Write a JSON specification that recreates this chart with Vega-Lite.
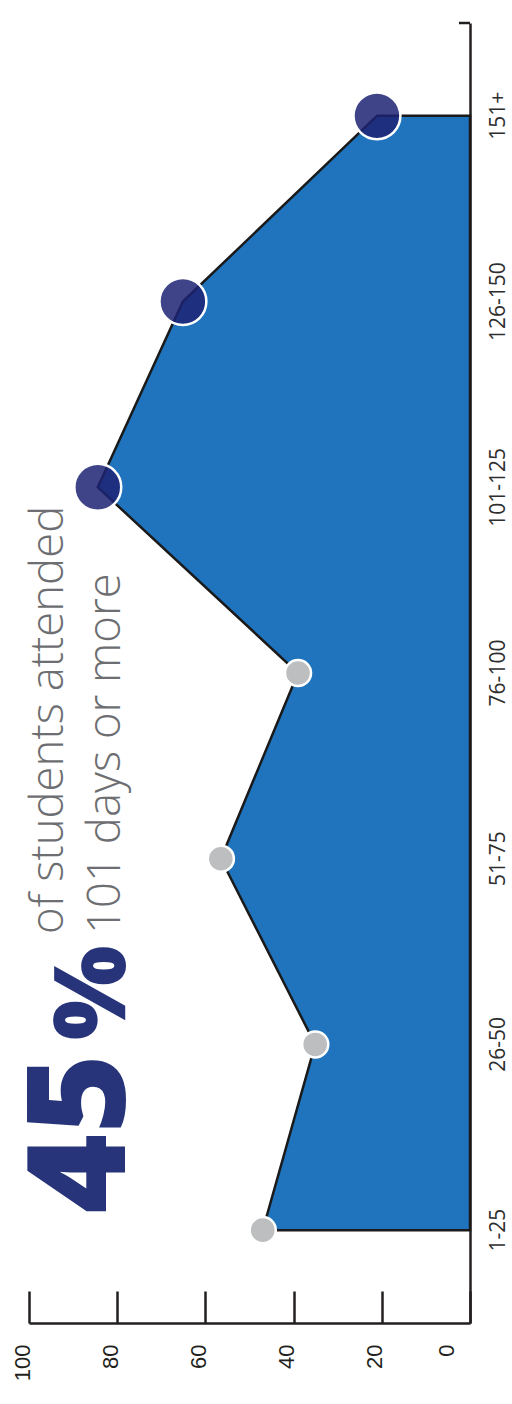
{
  "$schema": "https://vega.github.io/schema/vega-lite/v6.json",
  "width": 441,
  "height": 1300,
  "autosize": {"type": "none"},
  "padding": {"left": 29, "top": 23, "right": 42, "bottom": 81},
  "background": "white",
  "config": {"view": {"stroke": null}},
  "datasets": {
    "attendance": [
      {"days": "1-25", "students": 47, "attended101": "no"},
      {"days": "26-50", "students": 35.1, "attended101": "no"},
      {"days": "51-75", "students": 56.5, "attended101": "no"},
      {"days": "76-100", "students": 39, "attended101": "no"},
      {"days": "101-125", "students": 84.4, "attended101": "yes"},
      {"days": "126-150", "students": 65.1, "attended101": "yes"},
      {"days": "151+", "students": 21.1, "attended101": "yes"}
    ],
    "corner": [{"days": "151+", "from": 0, "to": 2.5}]
  },
  "layer": [
    {
      "data": {"name": "attendance"},
      "mark": {"type": "area", "orient": "horizontal", "color": "#1F74BD", "stroke": "#1a1a1a", "strokeWidth": 2.5},
      "encoding": {
        "y": {
          "field": "days",
          "type": "ordinal",
          "bandPosition": 0.5,
          "scale": {
            "type": "band",
            "domain": ["151+", "126-150", "101-125", "76-100", "51-75", "26-50", "1-25"],
            "paddingInner": 0,
            "paddingOuter": 0
          },
          "axis": {
            "orient": "right",
            "title": null,
            "ticks": false,
            "domainColor": "#231f20",
            "domainWidth": 2.5,
            "labelAngle": 270,
            "labelAlign": "center",
            "labelBaseline": "top",
            "labelPadding": 17,
            "labelFont": "Open Sans",
            "labelFontSize": 21,
            "labelColor": "#2e2e2e"
          }
        },
        "x": {
          "field": "students",
          "type": "quantitative",
          "stack": null,
          "scale": {"domain": [0, 100], "reverse": true, "nice": false},
          "axis": {
            "orient": "bottom",
            "title": null,
            "grid": false,
            "values": [0, 20, 40, 60, 80, 100],
            "domainColor": "#231f20",
            "domainWidth": 2.5,
            "tickColor": "#231f20",
            "tickWidth": 2.5,
            "tickSize": -32,
            "labelAngle": 270,
            "labelAlign": "right",
            "labelBaseline": "alphabetic",
            "labelPadding": 53,
            "labelFlush": false,
            "labelOverlap": false,
            "labelOffset": {"condition": {"test": "datum.value == 0", "value": -17}, "value": 0},
            "labelFont": "Liberation Sans",
            "labelFontSize": 22,
            "labelColor": "#231f20"
          }
        }
      }
    },
    {
      "data": {"name": "corner"},
      "mark": {"type": "rule", "color": "#231f20", "strokeWidth": 2.5},
      "encoding": {
        "y": {"field": "days", "type": "ordinal", "bandPosition": 0},
        "x": {"field": "from", "type": "quantitative"},
        "x2": {"field": "to"}
      }
    },
    {
      "data": {"name": "attendance"},
      "mark": {"type": "circle", "opacity": 1, "stroke": "white", "strokeWidth": 2.5, "strokeOpacity": 1},
      "encoding": {
        "y": {"field": "days", "type": "ordinal", "bandPosition": 0.5},
        "x": {"field": "students", "type": "quantitative"},
        "color": {"condition": {"test": "datum.attended101 == 'yes'", "value": "#1D2373"}, "value": "#BDBEC0"},
        "size": {"condition": {"test": "datum.attended101 == 'yes'", "value": 2200}, "value": 680},
        "fillOpacity": {"condition": {"test": "datum.attended101 == 'yes'", "value": 0.85}, "value": 1}
      }
    },
    {
      "data": {"values": [{"text": "45", "days": "1-25", "at": 78.2}]},
      "mark": {"type": "text", "angle": 270, "align": "left", "baseline": "alphabetic", "font": "Open Sans", "fontWeight": 800, "fontSize": 136, "color": "#27347A"},
      "encoding": {
        "y": {"field": "days", "type": "ordinal", "bandPosition": 0.41},
        "x": {"field": "at", "type": "quantitative"},
        "text": {"field": "text"}
      }
    },
    {
      "data": {"values": [{"text": "%", "days": "26-50", "at": 78.2}]},
      "mark": {"type": "text", "angle": 270, "align": "left", "baseline": "alphabetic", "font": "Open Sans", "fontWeight": 800, "fontSize": 100, "color": "#27347A"},
      "encoding": {
        "y": {"field": "days", "type": "ordinal", "bandPosition": 0.477},
        "x": {"field": "at", "type": "quantitative"},
        "text": {"field": "text"}
      }
    },
    {
      "data": {"values": [
        {"text": "of students attended", "days": "51-75", "at": 92.3},
        {"text": "101 days or more", "days": "51-75", "at": 79.4}
      ]},
      "mark": {"type": "text", "angle": 270, "align": "left", "baseline": "alphabetic", "font": "Open Sans", "fontWeight": 300, "fontSize": 45.5, "color": "#6D6E71"},
      "encoding": {
        "y": {"field": "days", "type": "ordinal", "bandPosition": 0.905},
        "x": {"field": "at", "type": "quantitative"},
        "text": {"field": "text"}
      }
    }
  ]
}
